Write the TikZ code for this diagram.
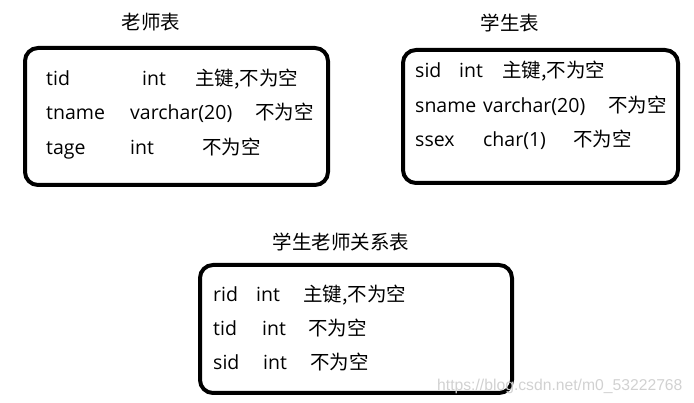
\documentclass[tikz,border=0pt]{standalone}
\usepackage{fontspec}
\setmainfont{Open Sans}
\newfontfamily\cjk{Noto Sans CJK SC}
\newfontfamily\wmfont{Liberation Sans}
\begin{document}
\begin{tikzpicture}[x=1pt,y=-1pt,
  tbl/.style={draw=black,line width=4pt,rounded corners=13pt},
  cell/.style={anchor=base west,inner sep=0pt,font=\fontsize{19.5}{23}\selectfont},
  ccell/.style={anchor=base west,inner sep=0pt,font=\fontsize{19.5}{23}\selectfont\cjk},
  ttl/.style={anchor=base,inner sep=0pt,font=\fontsize{19.5}{23}\selectfont\cjk},
  wm/.style={anchor=base west,inner sep=0pt,text=black!18,font=\fontsize{15.7}{18}\selectfont\wmfont}]
\useasboundingbox (0,0) rectangle (694,403);
% teacher table
\node[ttl] (t1) at (151,30) {老师表};
\draw[tbl] (25,48) rectangle (328,185);
\node[cell] (a11) at (46,86) {tid};
\node[cell] (a12) at (142,86) {int};
\node[ccell] (a13) at (195,86) {主键,不为空};
\node[cell] (a21) at (46,120) {tname};
\node[cell] (a22) at (130,120) {varchar(20)};
\node[ccell] (a23) at (255,120) {不为空};
\node[cell] (a31) at (46,155) {tage};
\node[cell] (a32) at (130,155) {int};
\node[ccell] (a33) at (202,155) {不为空};
% student table
\node[ttl] (t2) at (510,31) {学生表};
\draw[tbl] (403,50) rectangle (678,183);
\node[cell] (b11) at (415,78) {sid};
\node[cell] (b12) at (459,78) {int};
\node[ccell] (b13) at (502,78) {主键,不为空};
\node[cell] (b21) at (415,113) {sname};
\node[cell] (b22) at (483,113) {varchar(20)};
\node[ccell] (b23) at (608,113) {不为空};
\node[cell] (b31) at (415,147) {ssex};
\node[cell] (b32) at (483,147) {char(1)};
\node[ccell] (b33) at (573,147) {不为空};
% relation table
\node[ttl] (t3) at (341,250) {学生老师关系表};
\draw[tbl] (200,265) rectangle (512,393);
\node[cell] (c11) at (213,302) {rid};
\node[cell] (c12) at (256,302) {int};
\node[ccell] (c13) at (303,302) {主键,不为空};
\node[cell] (c21) at (213,336) {tid};
\node[cell] (c22) at (262,336) {int};
\node[ccell] (c23) at (308,336) {不为空};
\node[cell] (c31) at (213,370) {sid};
\node[cell] (c32) at (263,370) {int};
\node[ccell] (c33) at (310,370) {不为空};
\node[wm] (wm) at (437,391) {https://blog.csdn.net/m0\_53222768};
\end{tikzpicture}
\end{document}
